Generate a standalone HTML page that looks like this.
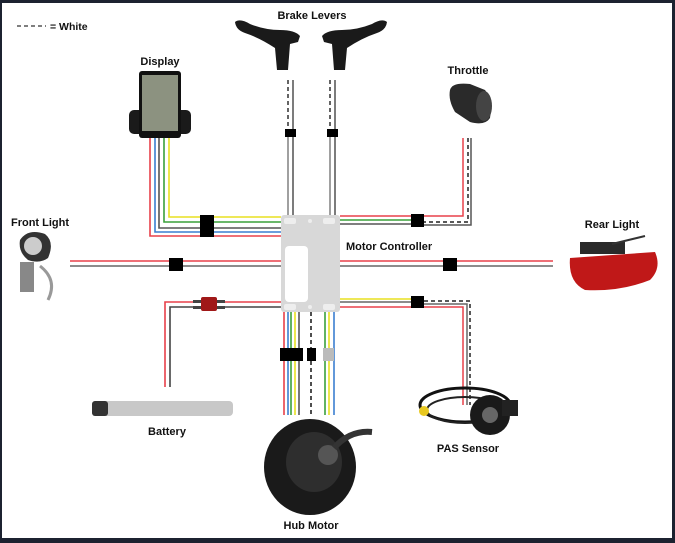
<!DOCTYPE html>
<html><head><meta charset="utf-8"><style>
html,body{margin:0;padding:0;background:#fff}
svg{display:block}
text{font-family:"Liberation Sans",sans-serif;font-weight:bold;font-size:11px;fill:#111}
</style></head><body>
<svg width="675" height="543" viewBox="0 0 675 543" xmlns="http://www.w3.org/2000/svg">
<rect x="0" y="0" width="675" height="543" fill="#1c2230"/>
<rect x="2" y="3" width="670" height="535" fill="#fff"/>

<line x1="17" y1="26" x2="46" y2="26" stroke="#333" stroke-width="1.2" stroke-dasharray="4,3"/>
<text x="50" y="30" style="font-size:10.5px">= White</text>

<g fill="none" stroke-width="1.6">
<path d="M150 137 V236 H281" stroke="#e8404a"/>
<path d="M155 137 V232 H281" stroke="#3a7fd0"/>
<path d="M159 137 V228 H281" stroke="#555"/>
<path d="M164 137 V222 H281" stroke="#3aa03a"/>
<path d="M169 137 V217 H281" stroke="#e8e020"/>
</g>
<rect x="200" y="215" width="14" height="22" fill="#000"/>

<g fill="none" stroke-width="1.4">
<line x1="288" y1="80" x2="288" y2="133" stroke="#222" stroke-dasharray="4,3"/>
<line x1="293" y1="80" x2="293" y2="215" stroke="#444"/>
<line x1="288" y1="133" x2="288" y2="215" stroke="#777"/>
<line x1="330" y1="80" x2="330" y2="133" stroke="#222" stroke-dasharray="4,3"/>
<line x1="335" y1="80" x2="335" y2="215" stroke="#444"/>
<line x1="330" y1="133" x2="330" y2="215" stroke="#777"/>
</g>
<rect x="285" y="129" width="11" height="8" fill="#000"/>
<rect x="327" y="129" width="11" height="8" fill="#000"/>

<g fill="none" stroke-width="1.5">
<path d="M463 138 V216 H340" stroke="#e8404a"/>
<path d="M340 220 H424" stroke="#3aa03a"/>
<path d="M340 224 H424" stroke="#555"/>
<path d="M468 138 V222 H424" stroke="#222" stroke-dasharray="4,3"/>
<path d="M471 138 V225 H424" stroke="#555"/>
</g>
<rect x="411" y="214" width="13" height="13" fill="#000"/>

<g stroke-width="1.6">
<line x1="70" y1="261" x2="281" y2="261" stroke="#e8404a"/>
<line x1="70" y1="266" x2="281" y2="266" stroke="#666"/>
<line x1="340" y1="261" x2="553" y2="261" stroke="#e8404a"/>
<line x1="340" y1="266" x2="553" y2="266" stroke="#666"/>
</g>
<rect x="169" y="258" width="14" height="13" fill="#000"/>
<rect x="443" y="258" width="14" height="13" fill="#000"/>

<g fill="none" stroke-width="1.6">
<path d="M165 387 V302 H281" stroke="#e8404a"/>
<path d="M170 387 V307 H281" stroke="#444"/>
</g>
<rect x="193" y="300" width="32" height="3" fill="#444"/>
<rect x="193" y="306" width="32" height="3" fill="#444"/>
<rect x="201" y="297" width="16" height="14" rx="2" fill="#a01818"/>

<g fill="none" stroke-width="1.5">
<path d="M340 299 H424" stroke="#e8e020"/>
<path d="M340 302 H424" stroke="#666"/>
<path d="M340 307 H463 V405" stroke="#e8404a"/>
<path d="M424 301 H470 V405" stroke="#222" stroke-dasharray="4,3"/>
<path d="M424 304 H467 V405" stroke="#666"/>
</g>
<rect x="411" y="296" width="13" height="12" fill="#000"/>

<g stroke-width="1.6">
<line x1="284" y1="312" x2="284" y2="415" stroke="#e8404a"/>
<line x1="288" y1="312" x2="288" y2="415" stroke="#3a7fd0"/>
<line x1="291" y1="312" x2="291" y2="415" stroke="#3aa03a"/>
<line x1="295" y1="312" x2="295" y2="415" stroke="#e8e020"/>
<line x1="299" y1="312" x2="299" y2="415" stroke="#555"/>
<line x1="311" y1="312" x2="311" y2="415" stroke="#222" stroke-dasharray="4,3"/>
<line x1="325" y1="312" x2="325" y2="415" stroke="#3aa03a"/>
<line x1="329" y1="312" x2="329" y2="415" stroke="#e8e020"/>
<line x1="334" y1="312" x2="334" y2="415" stroke="#3a7fd0"/>
</g>
<rect x="280" y="348" width="23" height="13" fill="#000"/>
<rect x="307" y="348" width="9" height="13" fill="#000"/>
<rect x="323" y="348" width="11" height="13" fill="#bbb"/>

<rect x="281" y="215" width="59" height="97" rx="3" fill="#d8d8d8"/>
<rect x="285" y="246" width="23" height="56" rx="4" fill="#fff"/>
<rect x="284" y="218" width="12" height="6" rx="2" fill="#eee"/>
<rect x="323" y="218" width="12" height="6" rx="2" fill="#eee"/>
<rect x="284" y="304" width="12" height="6" rx="2" fill="#eee"/>
<rect x="323" y="304" width="12" height="6" rx="2" fill="#eee"/>
<circle cx="310" cy="221" r="2" fill="#eee"/><circle cx="310" cy="307" r="2" fill="#eee"/>

<rect x="129" y="110" width="62" height="24" rx="5" fill="#1a1a1a"/>
<rect x="139" y="71" width="42" height="67" rx="3" fill="#111"/>
<rect x="142" y="75" width="36" height="56" fill="#8c9280"/>

<path d="M235 22 Q240 18 250 24 Q265 30 280 30 Q295 30 300 36 L298 42 L290 44 L288 70 L277 70 L275 48 Q260 38 245 33 Q236 30 235 22Z" fill="#1a1a1a"/>
<path d="M387 22 Q382 18 372 24 Q357 30 342 30 Q327 30 322 36 L324 42 L332 44 L334 70 L345 70 L347 48 Q362 38 377 33 Q386 30 387 22Z" fill="#1a1a1a"/>

<path d="M450 90 Q452 82 470 84 L485 90 Q493 100 490 118 Q485 126 470 122 L455 112 Q448 100 450 90Z" fill="#2a2a2a"/>
<ellipse cx="484" cy="106" rx="8" ry="15" fill="#444"/>

<path d="M20 240 Q28 228 45 234 Q55 242 48 258 Q40 264 28 260 Q18 252 20 240Z" fill="#333"/>
<circle cx="33" cy="246" r="9" fill="#ccc"/>
<rect x="20" y="262" width="14" height="30" fill="#888"/>
<path d="M40 266 Q58 280 48 300" stroke="#999" stroke-width="3" fill="none"/>

<path d="M570 258 L655 252 Q662 268 650 280 Q620 292 585 290 Q568 282 570 258Z" fill="#c01818"/>
<rect x="580" y="242" width="45" height="12" fill="#2a2a2a"/>
<path d="M612 244 L645 236" stroke="#333" stroke-width="2"/>

<rect x="92" y="401" width="141" height="15" rx="4" fill="#c8c8c8"/>
<rect x="92" y="401" width="16" height="15" rx="3" fill="#333"/>

<ellipse cx="310" cy="467" rx="46" ry="48" fill="#1a1a1a"/>
<ellipse cx="314" cy="462" rx="28" ry="30" fill="#2e2e2e"/>
<circle cx="328" cy="455" r="10" fill="#555"/>
<path d="M334 448 Q350 430 372 432" stroke="#333" stroke-width="6" fill="none"/>

<ellipse cx="465" cy="405" rx="45" ry="17" fill="none" stroke="#111" stroke-width="3"/>
<ellipse cx="465" cy="410" rx="38" ry="13" fill="none" stroke="#222" stroke-width="2"/>
<circle cx="490" cy="415" r="20" fill="#1a1a1a"/>
<circle cx="490" cy="415" r="8" fill="#666"/>
<rect x="502" y="400" width="16" height="16" fill="#222"/>
<circle cx="424" cy="411" r="5" fill="#e8c820"/>

<text x="312" y="19" text-anchor="middle">Brake Levers</text>
<text x="160" y="65" text-anchor="middle">Display</text>
<text x="468" y="74" text-anchor="middle">Throttle</text>
<text x="40" y="226" text-anchor="middle">Front Light</text>
<text x="612" y="228" text-anchor="middle">Rear Light</text>
<text x="346" y="250">Motor Controller</text>
<text x="167" y="435" text-anchor="middle">Battery</text>
<text x="468" y="452" text-anchor="middle">PAS Sensor</text>
<text x="311" y="529" text-anchor="middle">Hub Motor</text>
</svg>
</body></html>
